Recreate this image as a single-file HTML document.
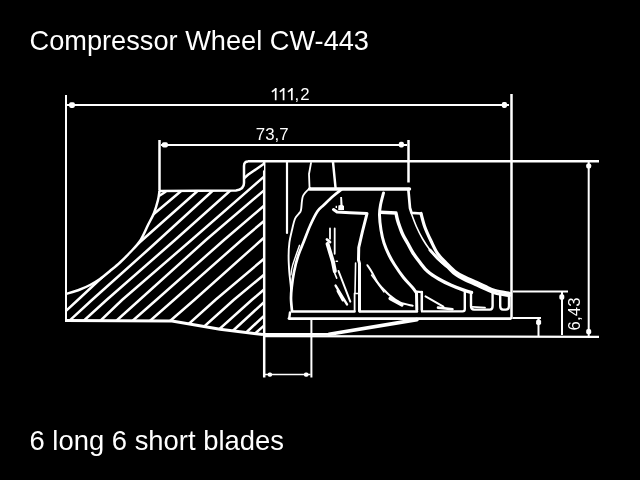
<!DOCTYPE html>
<html><head><meta charset="utf-8"><style>
html,body{margin:0;padding:0;background:#000;width:640px;height:480px;overflow:hidden}
svg{display:block;filter:grayscale(1)}
text{font-family:"Liberation Sans",sans-serif;fill:#fff}
</style></head><body>
<svg width="640" height="480" viewBox="0 0 640 480">
<rect width="640" height="480" fill="#000"/>
<defs>
<clipPath id="hub"><path d="M66.00,294.00 C68.33,293.25 76.00,291.00 80.00,289.50 C84.00,288.00 86.67,286.75 90.00,285.00 C93.33,283.25 96.67,281.33 100.00,279.00 C103.33,276.67 106.67,273.75 110.00,271.00 C113.33,268.25 116.67,265.58 120.00,262.50 C123.33,259.42 126.67,256.08 130.00,252.50 C133.33,248.92 137.00,245.58 140.00,241.00 C143.00,236.42 145.67,229.67 148.00,225.00 C150.33,220.33 152.33,217.17 154.00,213.00 C155.67,208.83 157.08,203.67 158.00,200.00 C158.92,196.33 159.25,192.50 159.50,191.00 L236,190.5 Q244,189.5 244,183 L244,166 Q244,161.5 248,161.5 L264,161.5 L264,335 L220,329.3 L172,321 L66,320.5 Z"/></clipPath>
</defs>
<text x="29.5" y="50" font-size="28" textLength="339.5" lengthAdjust="spacingAndGlyphs">Compressor Wheel CW-443</text>
<text x="29.5" y="450" font-size="28" textLength="254.5" lengthAdjust="spacingAndGlyphs">6 long 6 short blades</text>
<text x="294.6" y="100" font-size="16.8" letter-spacing="0.9">,2</text>
<g stroke="#fff" stroke-width="1.7" fill="none"><path d="M275.7,88V100.2M283.6,88V100.2M291.8,88V100.2"/><path d="M276.2,88.6L271.9,91.9M284.1,88.6L279.8,91.9M292.3,88.6L288,91.9" stroke-width="1.7"/></g>
<text x="255.7" y="140" font-size="16.8" textLength="33" lengthAdjust="spacing">73,7</text>
<text transform="translate(580.2,330.5) rotate(-90)" font-size="16.8" textLength="33" lengthAdjust="spacing">6,43</text>
<g stroke="#fff" fill="none" stroke-linecap="butt">
<path d="M66,95V321" stroke-width="2"/>
<path d="M511.5,94V319" stroke-width="2.5"/>
<path d="M67,105H509" stroke-width="2"/>
<path d="M159.5,140V190" stroke-width="2.5"/>
<path d="M408.5,140V182.5" stroke-width="2.5"/>
<path d="M161,145H407" stroke-width="2"/>
<path d="M248,161.3H599" stroke-width="2.4"/>
<path d="M588.7,161V336" stroke-width="2"/>
<path d="M263,334.2L330,334.2" stroke-width="2.4"/>
<path d="M263,336.2L599,336.9" stroke-width="2.2"/>
<path d="M513,291.5H568" stroke-width="2"/>
<path d="M562,292V335" stroke-width="2"/>
<path d="M513,318H541" stroke-width="2"/>
<path d="M538.5,318V336" stroke-width="2"/>
<path d="M264.2,161V377.5" stroke-width="2.5"/>
<path d="M311.4,320V377.5" stroke-width="2"/>
<path d="M265,374.6H310.5" stroke-width="1.5"/>
</g>
<g fill="#fff">
<rect x="69.10" y="102.30" width="5.8" height="5.6" rx="1.8"/>
<rect x="501.80" y="102.10" width="5.2" height="5.8" rx="1.8"/>
<rect x="161.90" y="142.20" width="6" height="5.4" rx="1.8"/>
<rect x="398.90" y="141.80" width="5" height="5.8" rx="1.8"/>
<rect x="586.20" y="163.40" width="5" height="5.2" rx="1.8"/>
<rect x="586.20" y="329.00" width="5" height="5.2" rx="1.8"/>
<rect x="559.30" y="294.30" width="5" height="5.4" rx="1.8"/>
<rect x="536.10" y="319.60" width="5" height="5.4" rx="1.8"/>
<rect x="267.70" y="372.40" width="4.4" height="4.4" rx="1.8"/>
<rect x="303.9" y="372.5" width="4.6" height="4.2" rx="1.8"/>
</g>
<g clip-path="url(#hub)" stroke="#fff" stroke-width="2.5">
<path d="M115.00,246.68 L155.00,213.00 L178.75,193.00 L218.75,159.32"/>
<path d="M37.80,336.72 L77.80,300.00 L137.50,244.25 L197.50,191.00 L237.50,155.50"/>
<path d="M51.90,336.80 L91.90,300.00 L150.00,248.00 L212.40,191.00 L252.40,154.46"/>
<path d="M66.50,336.40 L106.50,300.00 L175.00,240.00 L248.00,174.80 L264.00,163.80 L304.00,136.30"/>
<path d="M82.00,338.40 L122.00,300.00 L191.40,240.00 L264.00,176.60 L304.00,141.67"/>
<path d="M99.40,336.00 L139.40,300.00 L205.90,240.00 L264.00,190.40 L304.00,156.25"/>
<path d="M116.20,335.20 L156.20,300.00 L224.00,240.00 L264.00,205.80 L304.00,171.60"/>
<path d="M133.70,335.20 L173.70,300.00 L241.60,240.00 L264.00,221.00 L304.00,187.07"/>
<path d="M154.20,334.80 L194.20,300.00 L261.40,240.00 L301.40,204.29"/>
<path d="M175.30,336.00 L215.30,300.00 L264.00,258.75 L304.00,224.87"/>
<path d="M193.60,336.00 L233.60,300.00 L264.00,274.80 L304.00,241.64"/>
<path d="M211.70,336.00 L251.70,300.00 L264.00,289.50 L304.00,255.35"/>
<path d="M193.75,366.76 L233.75,330.00 L264.00,302.20 L304.00,265.44"/>
<path d="M207.50,368.70 L247.50,331.25 L264.00,315.80 L304.00,278.35"/>
<path d="M216.25,368.11 L256.25,332.50 L264.00,325.60 L304.00,289.99"/>
<path d="M159,196L166,191.5"/>
</g>
<g stroke="#fff" fill="none" stroke-width="2.5" stroke-linejoin="round">
<path d="M66.00,294.00 C68.33,293.25 76.00,291.00 80.00,289.50 C84.00,288.00 86.67,286.75 90.00,285.00 C93.33,283.25 96.67,281.33 100.00,279.00 C103.33,276.67 106.67,273.75 110.00,271.00 C113.33,268.25 116.67,265.58 120.00,262.50 C123.33,259.42 126.67,256.08 130.00,252.50 C133.33,248.92 137.00,245.58 140.00,241.00 C143.00,236.42 145.67,229.67 148.00,225.00 C150.33,220.33 152.33,217.17 154.00,213.00 C155.67,208.83 157.08,203.67 158.00,200.00 C158.92,196.33 159.25,192.50 159.50,191.00"/>
<path d="M158.5,190.9L236,190.5 Q244,189.5 244,183 L244,166 Q244,161.5 248,161.5"/>
<path d="M65,320.5L172,321L220,329.3L263,334.6" stroke-width="3"/>
</g>
<g stroke="#fff" fill="none" stroke-linejoin="round" stroke-linecap="round">
<path d="M287,162V233" stroke-width="2.2"/>
<path d="M311.00,163.00 L309.00,174.00 L309.50,187.00" stroke-width="1.8"/>
<path d="M333.00,162.00 L335.50,187.50" stroke-width="2.5"/>
<path d="M309.5,189H409.5" stroke-width="3.4"/>
<path d="M408.30,189.00 L410.00,208.00 L411.50,212.80 L421.00,213.50" stroke-width="2.7"/>
<path d="M421.00,213.50 C421.67,215.83 423.33,222.92 425.00,227.50 C426.67,232.08 428.92,236.67 431.00,241.00 C433.08,245.33 435.00,249.87 437.50,253.50 C440.00,257.13 443.08,259.80 446.00,262.80 C448.92,265.80 451.83,269.08 455.00,271.50 C458.17,273.92 461.67,275.60 465.00,277.30 C468.33,279.00 471.67,280.20 475.00,281.70 C478.33,283.20 481.67,284.83 485.00,286.30 C488.33,287.77 490.92,289.33 495.00,290.50 C499.08,291.67 507.08,292.83 509.50,293.30" stroke-width="3.2"/>
<path d="M430.00,250.00 C431.46,251.58 435.83,256.67 438.75,259.50 C441.67,262.33 444.79,264.57 447.50,267.00 C450.21,269.43 452.08,271.95 455.00,274.10 C457.92,276.25 461.67,278.20 465.00,279.90 C468.33,281.60 471.67,282.80 475.00,284.30 C478.33,285.80 481.67,287.43 485.00,288.90 C488.33,290.37 490.92,291.98 495.00,293.10 C499.08,294.22 507.08,295.18 509.50,295.60" stroke-width="3"/>
<path d="M411.50,214.00 C412.29,216.04 414.42,222.12 416.25,226.25 C418.08,230.38 420.21,234.79 422.50,238.75 C424.79,242.71 427.29,246.46 430.00,250.00 C432.71,253.54 435.83,257.08 438.75,260.00 C441.67,262.92 446.04,266.25 447.50,267.50" stroke-width="1.6"/>
<path d="M383.50,193.00 C383.00,195.00 381.17,201.33 380.50,205.00 C379.83,208.67 379.42,210.83 379.50,215.00 C379.58,219.17 380.25,225.33 381.00,230.00 C381.75,234.67 382.67,238.83 384.00,243.00 C385.33,247.17 387.27,251.42 389.00,255.00 C390.73,258.58 391.98,260.75 394.40,264.50 C396.82,268.25 400.45,273.62 403.50,277.50 C406.55,281.38 410.53,285.18 412.70,287.80 C414.87,290.42 415.87,292.30 416.50,293.20 L416.8,310" stroke-width="3"/>
<path d="M380.6,212.3 L396,213 L396.00,213.00 C396.25,214.17 396.83,217.58 397.50,220.00 C398.17,222.42 399.08,225.00 400.00,227.50 C400.92,230.00 401.75,232.42 403.00,235.00 C404.25,237.58 405.83,240.00 407.50,243.00 C409.17,246.00 410.92,249.75 413.00,253.00 C415.08,256.25 417.58,259.45 420.00,262.50 C422.42,265.55 424.38,268.55 427.50,271.30 C430.62,274.05 434.79,276.67 438.75,279.00 C442.71,281.33 447.08,283.43 451.25,285.30 C455.42,287.17 460.38,289.00 463.75,290.20 C467.12,291.40 470.21,292.12 471.50,292.50" stroke-width="3.4"/>
<path d="M464.8,292.5V309Q464.8,311.4 462.5,311.4H422" stroke-width="2.4"/>
<path d="M471,292.5V306Q471,309.6 474,309.6H490Q492.6,309.6 492.6,306V293" stroke-width="2.4"/>
<path d="M500.2,293V306Q500.2,309.6 503,309.6H506Q509,309.6 509,306V294" stroke-width="2.4"/>
<path d="M341.50,189.50 C340.08,190.62 335.96,193.67 333.00,196.25 C330.04,198.83 326.33,202.50 323.75,205.00 C321.17,207.50 319.73,207.92 317.50,211.25 C315.27,214.58 312.62,220.11 310.40,225.00 C308.18,229.89 306.27,235.39 304.20,240.60 C302.13,245.81 299.70,251.03 298.00,256.25 C296.30,261.47 295.05,266.69 294.00,271.90 C292.95,277.11 292.20,283.08 291.70,287.50 C291.20,291.92 290.95,294.48 291.00,298.40 C291.05,302.32 291.83,308.90 292.00,311.00" stroke-width="2.7"/>
<path d="M310.00,188.00 C308.83,189.33 304.50,192.33 303.00,196.00 C301.50,199.67 301.71,207.04 301.00,210.00 C300.29,212.96 299.75,212.29 298.75,213.75 C297.75,215.21 296.12,216.04 295.00,218.75 C293.88,221.46 292.93,226.04 292.00,230.00 C291.07,233.96 289.97,238.17 289.40,242.50 C288.83,246.83 288.62,251.08 288.60,256.00 C288.58,260.92 288.92,266.75 289.30,272.00 C289.68,277.25 290.62,283.17 290.90,287.50 C291.18,291.83 290.98,296.25 291.00,298.00" stroke-width="1.9"/>
<path d="M299.50,245.30 C298.33,248.68 293.93,260.65 292.50,265.60 C291.07,270.55 291.17,273.43 290.90,275.00" stroke-width="1.4"/>
<path d="M333.50,209.50 L337.00,212.00 L350.00,212.80 L367.00,213.60 L362.50,231.25 L358.75,247.50 L358.50,260.00 L359.50,263.40 L359.50,311.00" stroke-width="3"/>
<path d="M355.60,263.00 L355.00,293.50 L359.50,293.50" stroke-width="1.6"/>
<path d="M354.6,293.5V311" stroke-width="1.8"/>
<path d="M421.8,292V310" stroke-width="2.5"/>
<path d="M292,311.5H354.5M360,311.5H417" stroke-width="2.6"/>
<path d="M289,318.6H510.5" stroke-width="2.9"/>
<path d="M290,312.5L289.3,318" stroke-width="2.4"/>
<path d="M329,334.2L417,319.6" stroke-width="3.6"/>
<path d="M327.6,244L333,262L334.8,271" stroke-width="4"/>
<path d="M327,239.5L330,242" stroke-width="2.8"/>
<path d="M336.2,261.3L337.4,261.3" stroke-width="1.6"/>
<path d="M338.5,271L350.3,301.6" stroke-width="2"/>
<path d="M425.5,296.4L443.4,306.6" stroke-width="2"/>
<path d="M438,307.6L452.5,309.2" stroke-width="2.6"/>
<path d="M416.5,291.6L422,292.2" stroke-width="2.2"/>
<path d="M472.5,306.8L485,307.6" stroke-width="1.8"/>
<path d="M334.4,272.5L336.7,278.1" stroke-width="1.6"/>
<path d="M335.6,285.6L347,304.4" stroke-width="2.4"/>
<path d="M338,291L343,300" stroke-width="3"/>
<path d="M367.40,265.20 C368.08,266.25 369.87,268.73 371.50,271.50 C373.13,274.27 375.30,278.95 377.20,281.80 C379.10,284.65 380.80,286.32 382.90,288.60 C385.00,290.88 386.95,293.20 389.80,295.50 C392.65,297.80 396.18,300.68 400.00,302.40 C403.82,304.12 410.58,305.23 412.70,305.80" stroke-width="2"/>
<path d="M390,298.5L402,305" stroke-width="3.2"/>
<path d="M371.5,275L384,292" stroke-width="1.4"/>
<path d="M330,228.4V238.75M334.7,228.4V253.75" stroke-width="1.8"/>
</g>
<path d="M340.2,197L342,197L342.6,205L344,206L344,210L338.2,210L338.4,205.5L340.4,205Z" fill="#fff"/><rect x="335.6" y="205.8" width="1.4" height="2.2" fill="#fff"/>
</svg>
</body></html>
